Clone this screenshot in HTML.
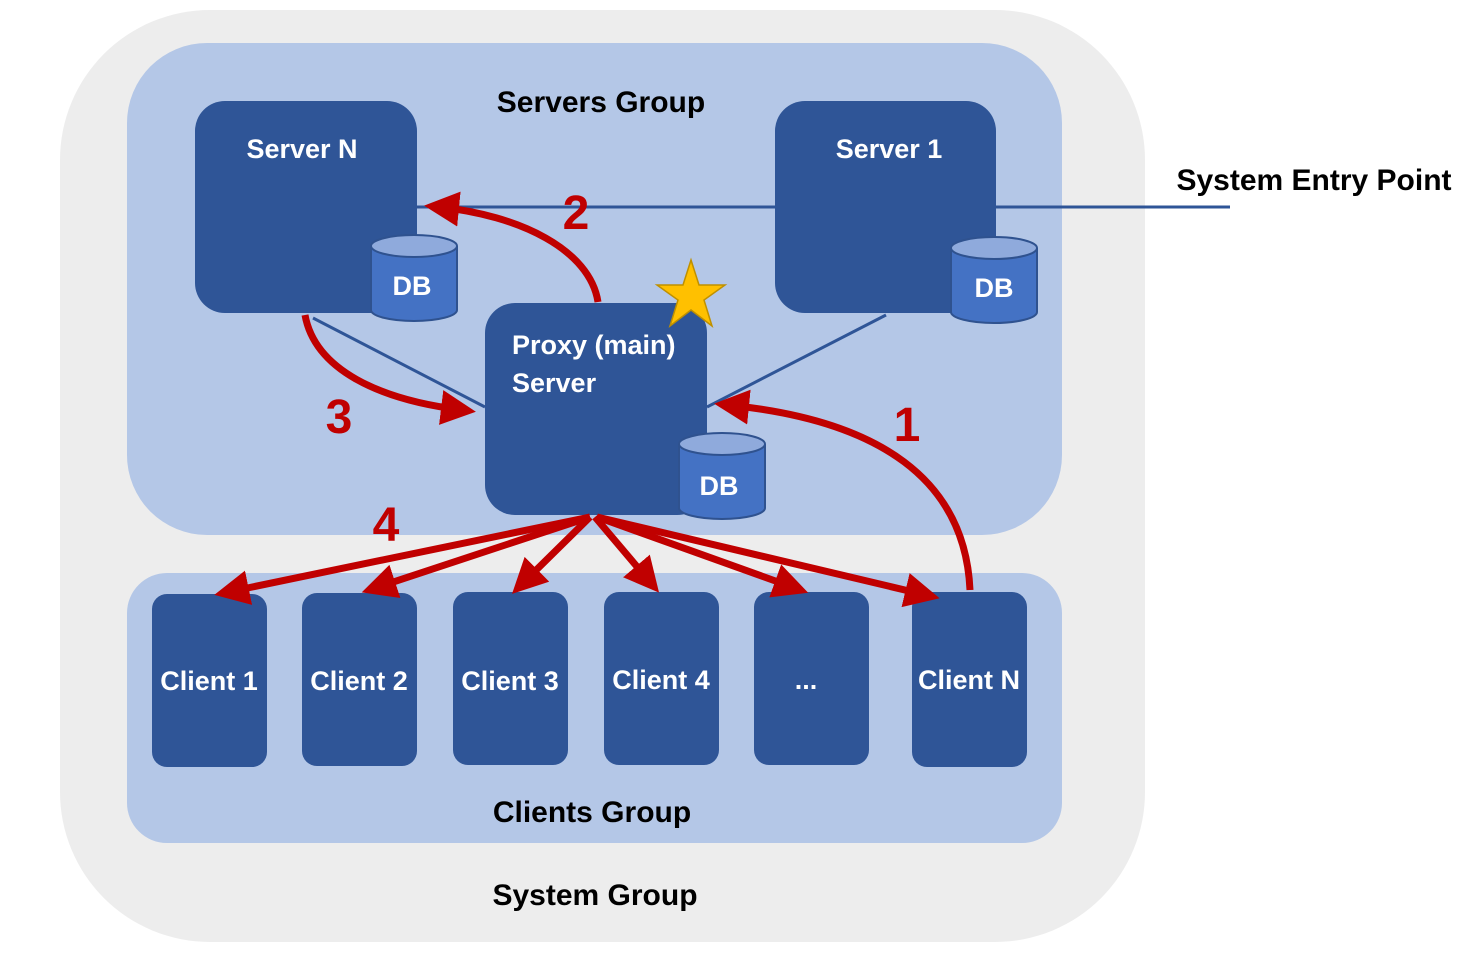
<!DOCTYPE html>
<html><head><meta charset="utf-8"><style>
html,body{margin:0;padding:0;background:#fff;}
svg{display:block;}
text{font-family:"Liberation Sans",sans-serif;font-weight:bold;}
</style></head><body>
<svg width="1468" height="958" viewBox="0 0 1468 958" xmlns="http://www.w3.org/2000/svg">
<defs>
<marker id="ah" markerWidth="5" markerHeight="5" refX="3" refY="2.5" orient="auto" markerUnits="strokeWidth">
<path d="M0,0 L5,2.5 L0,5 Z" fill="#c00000"/>
</marker>
</defs>
<rect x="60" y="10" width="1085" height="932" rx="150" fill="#ededed"/>
<rect x="127" y="43" width="935" height="492" rx="80" fill="#b4c7e7"/>
<rect x="127" y="573" width="935" height="270" rx="40" fill="#b4c7e7"/>
<text x="601" y="112" font-size="30" text-anchor="middle" fill="#000">Servers Group</text>
<text x="592" y="822" font-size="30" text-anchor="middle" fill="#000">Clients Group</text>
<text x="595" y="905" font-size="30" text-anchor="middle" fill="#000">System Group</text>
<text x="1314" y="190" font-size="30" text-anchor="middle" fill="#000">System Entry Point</text>

<g stroke="#2f5597" stroke-width="3">
<line x1="417" y1="207" x2="775" y2="207"/>
<line x1="996" y1="207" x2="1230" y2="207"/>
<line x1="313" y1="318" x2="485" y2="407"/>
<line x1="886" y1="315" x2="707" y2="407"/>
</g>

<rect x="195" y="101" width="222" height="212" rx="30" fill="#2f5597"/>
<rect x="775" y="101" width="221" height="212" rx="30" fill="#2f5597"/>
<rect x="485" y="303" width="222" height="212" rx="30" fill="#2f5597"/>
<text x="302" y="158" font-size="27" text-anchor="middle" fill="#fff">Server N</text>
<text x="889" y="158" font-size="27" text-anchor="middle" fill="#fff">Server 1</text>
<text x="512" y="354" font-size="27" fill="#fff">Proxy (main)</text>
<text x="512" y="392" font-size="27" fill="#fff">Server</text>

<g fill="#4472c4" stroke="#2f528f" stroke-width="2">
<path d="M371,246 L371,310 A43,11 0 0 0 457,310 L457,246"/>
<ellipse cx="414" cy="246" rx="43" ry="11" fill="#8faadc"/>
<path d="M951,248 L951,312 A43,11 0 0 0 1037,312 L1037,248"/>
<ellipse cx="994" cy="248" rx="43" ry="11" fill="#8faadc"/>
<path d="M679,444 L679,508 A43,11 0 0 0 765,508 L765,444"/>
<ellipse cx="722" cy="444" rx="43" ry="11" fill="#8faadc"/>
</g>
<text x="412" y="295" font-size="27" text-anchor="middle" fill="#fff">DB</text>
<text x="994" y="297" font-size="27" text-anchor="middle" fill="#fff">DB</text>
<text x="719" y="495" font-size="27" text-anchor="middle" fill="#fff">DB</text>

<polygon points="691,260 699,285 725,285 704,300 712,326 691,310 670,326 678,300 657,285 683,285" fill="#ffc000" stroke="#bf9000" stroke-width="1.5"/>

<g fill="#2f5597">
<rect x="152" y="594" width="115" height="173" rx="15"/>
<rect x="302" y="593" width="115" height="173" rx="15"/>
<rect x="453" y="592" width="115" height="173" rx="15"/>
<rect x="604" y="592" width="115" height="173" rx="15"/>
<rect x="754" y="592" width="115" height="173" rx="15"/>
<rect x="912" y="592" width="115" height="175" rx="15"/>
</g>
<g font-size="27" text-anchor="middle" fill="#fff">
<text x="209" y="690">Client 1</text>
<text x="359" y="690">Client 2</text>
<text x="510" y="690">Client 3</text>
<text x="661" y="689">Client 4</text>
<text x="806" y="689">...</text>
<text x="969" y="689">Client N</text>
</g>

<g stroke="#c00000" stroke-width="7" fill="none" marker-end="url(#ah)">
<line x1="590" y1="517" x2="228" y2="592"/>
<line x1="590" y1="517" x2="375" y2="588"/>
<line x1="590" y1="517" x2="522" y2="584"/>
<line x1="595" y1="517" x2="650" y2="582"/>
<line x1="597" y1="517" x2="795" y2="588"/>
<line x1="597" y1="517" x2="926" y2="595"/>
<path d="M970,590 C965,480 880,420 728,405"/>
<path d="M598,302 C590,250 520,215 438,207"/>
<path d="M305,315 C315,370 380,400 462,410"/>
</g>
<g font-size="48" fill="#c00000">
<text x="907" y="441" text-anchor="middle">1</text>
<text x="576" y="229" text-anchor="middle">2</text>
<text x="339" y="433" text-anchor="middle">3</text>
<text x="386" y="541" text-anchor="middle">4</text>
</g>
</svg>
</body></html>
